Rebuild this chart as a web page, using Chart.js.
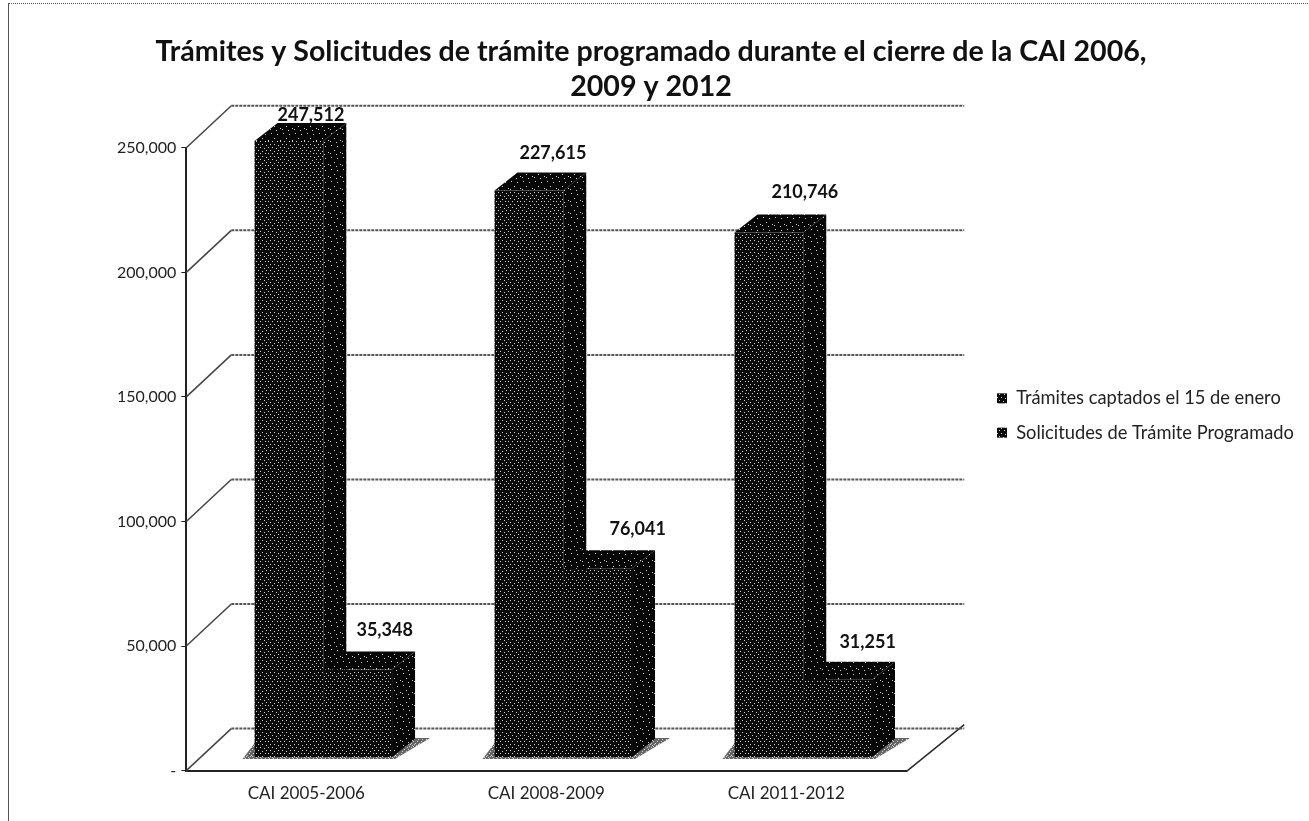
<!DOCTYPE html>
<html lang="es">
<head>
<meta charset="utf-8">
<title>Trámites y Solicitudes</title>
<script src="https://cdn.jsdelivr.net/npm/chart.js@4"></script>
<style>
  html, body { margin: 0; background: #fff; overflow: hidden; }
  #frame { position: absolute; left: 8px; top: 3px; width: 1301px; height: 818px; border-left: 1px solid #555; border-top: 1px dotted #555; }
  canvas { position: absolute; left: 0; top: 0; }
</style>
</head>
<body>
<div id="frame"></div>
<canvas id="chart" width="1309" height="821"></canvas>
<script>
const categories = ['CAI 2005-2006', 'CAI 2008-2009', 'CAI 2011-2012'];
const tramites = [247512, 227615, 210746];
const solicitudes = [35348, 76041, 31251];
const yTicks = [0, 50000, 100000, 150000, 200000, 250000];

const FONT = 'Lato, "Open Sans", sans-serif';
const DEPTH = { x: 23, y: -18 };     // depth of a bar
const WALL = { x: 45, y: -42 };      // depth of the floor
const SHIFT = { x: 17, y: -13 };     // bars stand inside the floor
// label nudges from the top of each bar, by dataset then category
const LABEL_NUDGE = [
  [[22, -26], [24, -37], [36, -40]],
  [[27, -39], [40, -39], [30, -38]],
];

// halftone look of the scanned bars
function halftone(dots, base) {
  const tile = document.createElement('canvas');
  tile.width = tile.height = 12;
  const t = tile.getContext('2d');
  t.fillStyle = base;
  t.fillRect(0, 0, 12, 12);
  t.fillStyle = '#d0d0d0';
  dots.forEach(([x, y]) => t.fillRect(x, y, 1, 1));
  return t.createPattern(tile, 'repeat');
}
const ctx = document.getElementById('chart').getContext('2d');
const frontFill = halftone([[1, 1], [5, 1], [9, 2], [3, 4], [7, 5], [11, 4], [1, 7], [5, 8], [9, 7], [3, 10], [8, 10], [11, 10]], '#0a0a0a');
const sideFill = halftone([[2, 2], [8, 3], [5, 7], [11, 9], [1, 10], [7, 11]], '#060606');
const shadowFill = halftone([[0, 0], [2, 0], [4, 1], [6, 0], [8, 1], [10, 0], [1, 2], [3, 3], [5, 2], [7, 3], [9, 2], [11, 3], [0, 5], [4, 5], [8, 5], [2, 7], [6, 7], [10, 7], [1, 9], [5, 9], [9, 9], [3, 11], [7, 11], [11, 11]], '#666');

function poly(c, pts, fill) {
  c.beginPath();
  pts.forEach(([x, y], i) => (i ? c.lineTo(x, y) : c.moveTo(x, y)));
  c.closePath();
  c.fillStyle = fill;
  c.fill();
}

const wallPlugin = {
  id: 'wall',
  afterLayout(chart) {
    // the title is centred on the page, not on what the axes leave over
    chart.titleBlock.left = 0;
    chart.titleBlock.right = 1302;
    // legend sits clear of the plot, further left than its box would allow
    const legend = chart.legend;
    legend.left = 981;
    legend.right = 1309;
    legend.top -= 6;
    legend.bottom -= 6;
  },
  beforeDatasetsDraw(chart) {
    const { ctx: c, chartArea: a, scales: { y } } = chart;
    c.save();
    // floor edges
    c.strokeStyle = '#2a2a2a';
    c.lineWidth = 1.5;
    c.beginPath();
    c.moveTo(a.right, a.bottom + 1);
    c.lineTo(a.right + 58, a.bottom - 46);
    c.stroke();
    // wall lines: a diagonal on the left side, then across the back
    yTicks.forEach(v => {
      const py = y.getPixelForValue(v);
      c.strokeStyle = '#444';
      c.lineWidth = 1.5;
      c.beginPath();
      c.moveTo(a.left, py);
      c.lineTo(a.left + WALL.x, py + WALL.y);
      c.stroke();
      c.strokeStyle = '#555';
      c.lineWidth = 2;
      c.setLineDash([3, 1]);
      c.beginPath();
      c.moveTo(a.left + WALL.x, py + WALL.y);
      c.lineTo(a.right + 58, py + WALL.y);
      c.stroke();
      c.setLineDash([]);
    });
    // shadow on the floor under each pair of bars
    const near = chart.getDatasetMeta(0).data;
    const far = chart.getDatasetMeta(1).data;
    near.forEach((bar, i) => {
      const l = bar.x - bar.width / 2 + SHIFT.x;
      const r = far[i].x + far[i].width / 2 + SHIFT.x;
      const b = bar.base + SHIFT.y;
      poly(c, [[l - 12, b + 2], [r + 3, b + 2], [r + 38, b - 19], [l + 4, b - 19]], shadowFill);
    });
    // bar tops and sides sit behind the front faces
    c.translate(SHIFT.x, SHIFT.y);
    chart.data.datasets.forEach((ds, d) => {
      chart.getDatasetMeta(d).data.forEach(bar => {
        const l = bar.x - bar.width / 2;
        const r = bar.x + bar.width / 2;
        poly(c, [[l, bar.y], [r, bar.y], [r + DEPTH.x, bar.y + DEPTH.y], [l + DEPTH.x, bar.y + DEPTH.y]], sideFill);
        poly(c, [[r, bar.y], [r + DEPTH.x, bar.y + DEPTH.y], [r + DEPTH.x, bar.base + DEPTH.y], [r, bar.base]], sideFill);
      });
    });
    c.restore();
    c.save();
    c.translate(SHIFT.x, SHIFT.y);
  },
  afterDatasetsDraw(chart) {
    const c = chart.ctx;
    c.restore();
    c.save();
    c.font = 'bold 18px ' + FONT;
    c.fillStyle = '#111';
    c.textAlign = 'center';
    c.textBaseline = 'middle';
    chart.data.datasets.forEach((ds, d) => {
      chart.getDatasetMeta(d).data.forEach((bar, i) => {
        const [nx, ny] = LABEL_NUDGE[d][i];
        c.fillText(ds.data[i].toLocaleString('en-US'), bar.x + SHIFT.x + nx, bar.y + SHIFT.y + ny);
      });
    });
    c.restore();
  },
};

new Chart(ctx, {
  type: 'bar',
  data: {
    labels: categories,
    datasets: [
      { label: 'Trámites captados el 15 de enero', data: tramites, backgroundColor: frontFill, clip: false },
      { label: 'Solicitudes de Trámite Programado', data: solicitudes, backgroundColor: frontFill, clip: false },
    ],
  },
  options: {
    responsive: false,
    animation: false,
    layout: { padding: { top: 34, right: 138, left: 112, bottom: 12 } },
    datasets: { bar: { barPercentage: 1, categoryPercentage: 0.573 } },
    plugins: {
      title: {
        display: true,
        text: ['Trámites y Solicitudes de trámite programado durante el cierre de la CAI 2006,', '2009 y 2012'],
        color: '#111',
        font: { family: FONT, size: 28.6, weight: 'bold', lineHeight: 1.22 },
        padding: { top: 0, bottom: 44 },
      },
      legend: {
        position: 'right',
        labels: {
          color: '#222',
          font: { family: FONT, size: 18.3 },
          boxWidth: 10,
          boxHeight: 10,
          padding: 16,
        },
      },
      tooltip: { enabled: false },
    },
    scales: {
      x: {
        grid: { display: false },
        border: { color: '#222', width: 2 },
        ticks: { color: '#222', font: { family: FONT, size: 17 }, padding: 5 },
      },
      y: {
        min: 0,
        max: 250000,
        afterBuildTicks: axis => { axis.ticks = yTicks.map(value => ({ value })); },
        grid: { drawOnChartArea: false, tickLength: 5, color: '#222' },
        border: { color: '#222', width: 2 },
        ticks: {
          color: '#222',
          font: { family: FONT, size: 16 },
          padding: 5,
          callback: v => (v === 0 ? '-' : v.toLocaleString('en-US')),
        },
      },
    },
  },
  plugins: [wallPlugin],
});
</script>
</body>
</html>
